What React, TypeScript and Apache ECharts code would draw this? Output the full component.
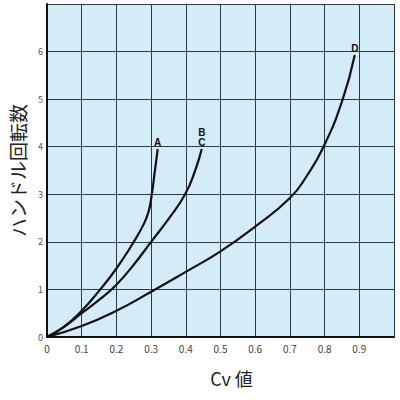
import { useEffect, useRef } from 'react';
import * as echarts from 'echarts';

// ─── Data ─────────────────────────────────────────────────────────────────────

const X_TICKS = ['0', '0.1', '0.2', '0.3', '0.4', '0.5', '0.6', '0.7', '0.8', '0.9'];
const Y_TICKS = ['0', '1', '2', '3', '4', '5', '6'];

const CURVE_A: [number, number][] = [
  [0, 0], [0.05, 0.22], [0.1, 0.55], [0.15, 0.97], [0.2, 1.44], [0.25, 2.0],
  [0.275, 2.32], [0.292, 2.62], [0.302, 3.0], [0.311, 3.5], [0.319, 3.95],
];

const CURVE_C: [number, number][] = [
  [0, 0], [0.05, 0.22], [0.1, 0.5], [0.15, 0.78], [0.2, 1.1], [0.25, 1.52],
  [0.3, 2.0], [0.352, 2.5], [0.398, 3.0], [0.427, 3.5], [0.446, 3.95],
];

const CURVE_D: [number, number][] = [
  [0, 0], [0.1, 0.23], [0.2, 0.55], [0.3, 0.95], [0.4, 1.37], [0.5, 1.8],
  [0.6, 2.32], [0.7, 2.92], [0.75, 3.4], [0.797, 4.0], [0.85, 4.95], [0.887, 5.93],
];

const CURVE_NAMES = ['A', 'B\nC', 'D'];

// ─── Option ───────────────────────────────────────────────────────────────────

const FONT = '"Noto Sans CJK JP", "Noto Sans", sans-serif';

function withEndLabel(points: [number, number][], text: string) {
  return points.map((p, i) =>
    i === points.length - 1
      ? {
          value: p,
          symbol: 'circle',
          symbolSize: 1,
          itemStyle: { color: 'rgba(0,0,0,0)', borderWidth: 0 },
          label: {
            show: true,
            position: 'top',
            distance: 1,
            formatter: text,
            color: '#111',
            fontSize: 10,
            fontWeight: 'bold',
            lineHeight: 10,
            fontFamily: 'Arial, "Liberation Sans", sans-serif',
          },
        }
      : { value: p, symbol: 'none' },
  );
}

function curve(points: [number, number][], text: string) {
  return {
    type: 'line',
    smooth: 0.5,
    showSymbol: true,
    data: withEndLabel(points, text),
    lineStyle: { color: '#111', width: 2.2 },
    z: 5,
  };
}

function buildOption(): echarts.EChartsOption {
  return {
    animation: false,
    backgroundColor: '#fff',
    textStyle: { fontFamily: FONT },
    grid: {
      left: 46,
      top: 4,
      right: 6,
      bottom: 63,
      show: true,
      backgroundColor: '#d4ebf8',
      borderWidth: 0,
    },
    xAxis: {
      type: 'value',
      min: 0,
      max: 1,
      interval: 0.1,
      name: 'Cv 値',
      nameLocation: 'middle',
      nameGap: 32,
      nameTextStyle: { fontSize: 18, color: '#222', padding: [0, 0, 0, 22], fontFamily: FONT },
      axisLine: { show: true, lineStyle: { color: '#111', width: 2 } },
      axisTick: { show: false },
      axisLabel: {
        color: '#444',
        fontSize: 10,
        margin: 6,
        formatter: (v: number) => {
          const i = Math.round(v * 10);
          return i < X_TICKS.length ? X_TICKS[i] : '';
        },
      },
      splitLine: { show: true, lineStyle: { color: '#2c3a44', width: 1 } },
    },
    yAxis: {
      type: 'value',
      min: 0,
      max: 7,
      interval: 1,
      name: 'ハンドル回転数',
      nameLocation: 'middle',
      nameGap: 20,
      nameRotate: 90,
      nameTextStyle: { fontSize: 19, color: '#222', fontFamily: FONT },
      axisLine: { show: true, lineStyle: { color: '#111', width: 2 } },
      axisTick: { show: false },
      axisLabel: {
        color: '#555',
        fontSize: 9,
        margin: 4,
        formatter: (v: number) => (v < Y_TICKS.length ? Y_TICKS[v] : ''),
      },
      splitLine: { show: true, lineStyle: { color: '#2c3a44', width: 1 } },
    },
    series: [
      curve(CURVE_A, CURVE_NAMES[0]),
      curve(CURVE_C, CURVE_NAMES[1]),
      curve(CURVE_D, CURVE_NAMES[2]),
    ] as echarts.SeriesOption[],
  };
}

// ─── Component ────────────────────────────────────────────────────────────────

export default function App() {
  const containerRef = useRef<HTMLDivElement>(null);

  useEffect(() => {
    if (!containerRef.current) return;
    const chart = echarts.init(containerRef.current, null, { renderer: 'svg' });
    chart.setOption(buildOption());
    return () => chart.dispose();
  }, []);

  return (
    <div
      ref={containerRef}
      style={{ position: 'fixed', left: 0, top: 0, width: 400, height: 400 }}
    />
  );
}
